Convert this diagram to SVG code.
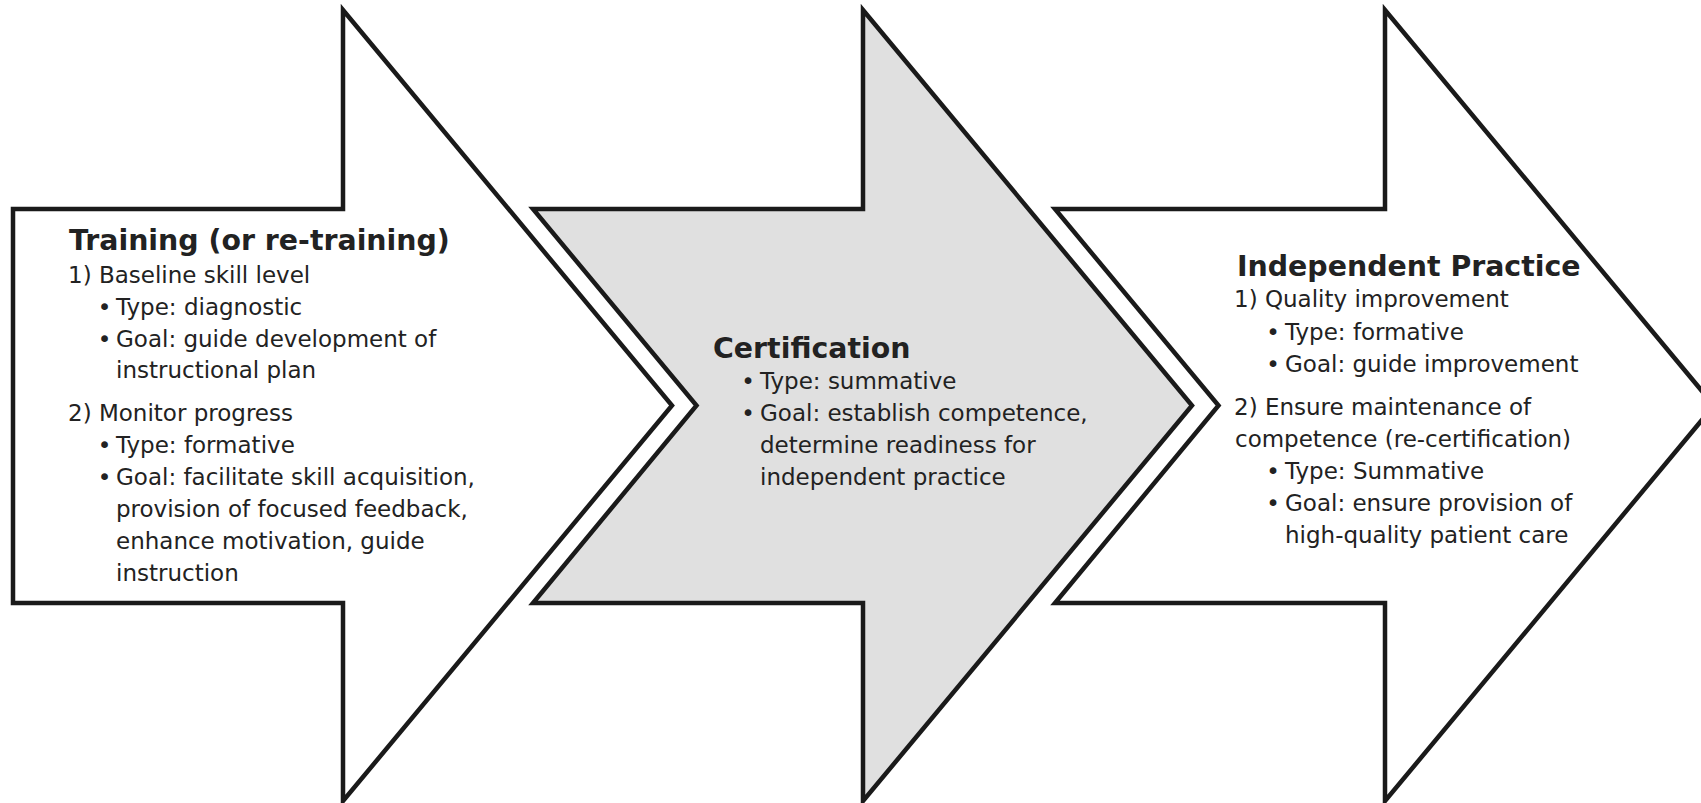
<svg xmlns="http://www.w3.org/2000/svg" width="1701" height="803" viewBox="0 0 1701 803">
  <style>
    .arrow { stroke: #1a1a1a; stroke-width: 4.5; stroke-linejoin: miter; stroke-miterlimit: 10; }
    .white { fill: #ffffff; }
    .grey { fill: #e0e0e0; }
    text { font-family: "DejaVu Sans", "Liberation Sans", sans-serif; fill: #222222; }
    .title { font-size: 28.4px; font-weight: bold; }
    .body { font-size: 23px; }
    .bul { font-size: 23px; text-anchor: middle; }
  </style>
  <rect x="0" y="0" width="1701" height="803" fill="#ffffff"/>
  <g id="training">
    <path class="arrow white" d="M13,209 H343 V10 L672,405.5 L343,801 V603 H13 Z"/>
    <text class="title" x="69" y="250">Training (or re-training)</text>
    <text class="body" x="68" y="283">1) Baseline skill level</text>
    <text class="bul" x="104.5" y="315">•</text>
    <text class="body" x="116" y="315">Type: diagnostic</text>
    <text class="bul" x="104.5" y="347">•</text>
    <text class="body" x="116" y="347">Goal: guide development of</text>
    <text class="body" x="116" y="378">instructional plan</text>
    <text class="body" x="68" y="421">2) Monitor progress</text>
    <text class="bul" x="104.5" y="453">•</text>
    <text class="body" x="116" y="453">Type: formative</text>
    <text class="bul" x="104.5" y="485">•</text>
    <text class="body" x="116" y="485">Goal: facilitate skill acquisition,</text>
    <text class="body" x="116" y="517">provision of focused feedback,</text>
    <text class="body" x="116" y="549">enhance motivation, guide</text>
    <text class="body" x="116" y="581">instruction</text>
  </g>
  <g id="certification">
    <path class="arrow grey" d="M533,209 H863 V10 L1192,405.5 L863,801 V603 H533 L696.5,405.5 Z"/>
    <text class="title" x="713" y="358">Certification</text>
    <text class="bul" x="748" y="389">•</text>
    <text class="body" x="760" y="389">Type: summative</text>
    <text class="bul" x="748" y="421">•</text>
    <text class="body" x="760" y="421">Goal: establish competence,</text>
    <text class="body" x="760" y="453">determine readiness for</text>
    <text class="body" x="760" y="485">independent practice</text>
  </g>
  <g id="independent-practice">
    <path class="arrow white" d="M1055,209 H1385 V10 L1714,405.5 L1385,801 V603 H1055 L1218.5,405.5 Z"/>
    <text class="title" x="1237" y="276">Independent Practice</text>
    <text class="body" x="1234" y="307">1) Quality improvement</text>
    <text class="bul" x="1273" y="340">•</text>
    <text class="body" x="1285" y="340">Type: formative</text>
    <text class="bul" x="1273" y="372">•</text>
    <text class="body" x="1285" y="372">Goal: guide improvement</text>
    <text class="body" x="1234" y="415">2) Ensure maintenance of</text>
    <text class="body" x="1235" y="447">competence (re-certification)</text>
    <text class="bul" x="1273" y="479">•</text>
    <text class="body" x="1285" y="479">Type: Summative</text>
    <text class="bul" x="1273" y="511">•</text>
    <text class="body" x="1285" y="511">Goal: ensure provision of</text>
    <text class="body" x="1285" y="543">high-quality patient care</text>
  </g>
  <g id="connectors"/>
</svg>
